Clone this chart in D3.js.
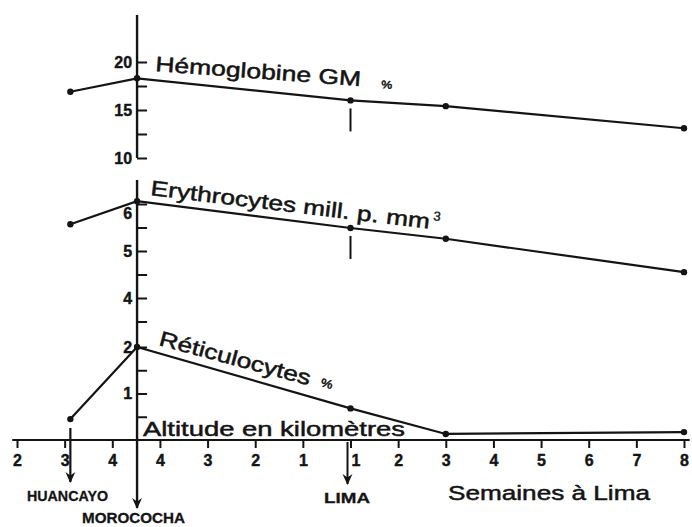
<!DOCTYPE html>
<html>
<head>
<meta charset="utf-8">
<script src="https://cdnjs.cloudflare.com/ajax/libs/d3/7.8.5/d3.min.js"></script>
<style>
  body { margin: 0; background: #fff; }
  svg { display: block; font-family: "Liberation Sans", Arial, sans-serif; }
</style>
</head>
<body>
<div id="chartDiv"></div>
<script>
// stations along the composite x axis (position in axis units)
var stations = ["HUANCAYO", "MOROCOCHA", "LIMA", "Semaine 3", "Semaine 8"];
var stationPos = [1.12, 2.52, 7, 9, 14];

// series values
var hemoglobine = [16.9, 18.3, 16.0, 15.4, 13.1];
var erythrocytes = [5.57, 6.06, 5.49, 5.26, 4.55];
var reticulocytes = [0.45, 2.0, 0.68, 0.13, 0.17];

// x axis: altitude up (2,3,4), altitude down (4..1), then weeks at Lima (1..8)
var xTickPos = [0, 1, 2, 3, 4, 5, 6, 7, 8, 9, 10, 11, 12, 13, 14];
var xTickLabels = ["2", "3", "4", "4", "3", "2", "1", "1", "2", "3", "4", "5", "6", "7", "8"];

var hemoTicks = [10, 12.5, 15, 17.5, 20];
var eryTicks = [3.5, 4, 4.5, 5, 5.5, 6];
var retTicks = [0.5, 1, 1.5, 2];

;(function() {
	var width = 692, height = 527;
	var ink = "#141414";

	var svg = d3.select("#chartDiv").append("svg")
		.attr("width", width)
		.attr("height", height);

	svg.append("defs").append("marker")
		.attr("id", "arrow")
		.attr("viewBox", "0 0 10 10")
		.attr("refX", 9).attr("refY", 5)
		.attr("markerWidth", 13).attr("markerHeight", 11)
		.attr("markerUnits", "userSpaceOnUse")
		.attr("orient", "auto")
		.append("path")
		.attr("d", "M0,0.5 L10,5 L0,9.5 L3,5 z")
		.attr("fill", ink);

	var x = d3.scaleLinear().domain([0, 14]).range([17, 684]);
	var yHemo = d3.scaleLinear().domain([10, 20]).range([158, 62]);
	var yEry = d3.scaleLinear().domain([4, 6]).range([298, 204]);
	var yRet = d3.scaleLinear().domain([0, 2]).range([440, 347]);

	var axisX = x(stationPos[1]);
	var baseY = yRet(0);

	// horizontal axis
	svg.append("line")
		.attr("x1", x(-0.1)).attr("x2", x(14.12))
		.attr("y1", baseY).attr("y2", baseY)
		.attr("stroke", ink).attr("stroke-width", 2.2);

	var xAxis = d3.axisBottom(x)
		.tickValues(xTickPos)
		.tickFormat(function(d, i) { return xTickLabels[i]; })
		.tickSize(8).tickPadding(7);

	var gx = svg.append("g")
		.attr("transform", "translate(0," + baseY + ")")
		.call(xAxis);
	gx.select(".domain").remove();
	gx.selectAll("line").attr("stroke", ink).attr("stroke-width", 2);
	gx.selectAll("text")
		.attr("fill", ink)
		.attr("stroke", ink).attr("stroke-width", 0.4)
		.style("font-size", "16px").style("font-weight", "bold")
		.attr("dx", function(d) { return d === 7 ? 5 : 0; });

	// vertical axis pieces
	svg.append("line")
		.attr("x1", axisX).attr("x2", axisX)
		.attr("y1", 15).attr("y2", yHemo(10))
		.attr("stroke", ink).attr("stroke-width", 2.4);
	svg.append("line")
		.attr("x1", axisX).attr("x2", axisX)
		.attr("y1", 180).attr("y2", 508)
		.attr("stroke", ink).attr("stroke-width", 2.4)
		.attr("marker-end", "url(#arrow)");

	function yAxisOf(scale, ticks, labelled, shift) {
		var ax = d3.axisLeft(scale)
			.tickValues(ticks)
			.tickFormat(function(d) { return labelled.indexOf(d) >= 0 ? d : ""; })
			.tickSize(-10).tickPadding(5);
		var g = svg.append("g")
			.attr("transform", "translate(" + axisX + ",0)")
			.call(ax);
		g.select(".domain").remove();
		g.selectAll("line").attr("stroke", ink).attr("stroke-width", 2);
		g.selectAll("text")
			.attr("fill", ink)
			.attr("stroke", ink).attr("stroke-width", 0.4)
			.style("font-size", "16px").style("font-weight", "bold")
			.attr("transform", function(d) { return "translate(0," + (shift[d] || 0) + ")"; });
	}
	yAxisOf(yHemo, hemoTicks, [10, 15, 20], {});
	yAxisOf(yEry, eryTicks, [4, 5, 6], { 6: 9 });
	yAxisOf(yRet, retTicks, [1, 2], {});

	// series lines and points
	var series = [
		{ values: hemoglobine, y: yHemo, mark: true },
		{ values: erythrocytes, y: yEry, mark: true },
		{ values: reticulocytes, y: yRet, mark: false }
	];

	series.forEach(function(s) {
		var pts = stationPos.map(function(p, i) { return [x(p), s.y(s.values[i])]; });
		svg.append("path")
			.attr("d", d3.line()(pts))
			.attr("fill", "none")
			.attr("stroke", ink)
			.attr("stroke-width", 2.2);
		svg.selectAll(null).data(pts).enter().append("circle")
			.attr("cx", function(d) { return d[0]; })
			.attr("cy", function(d) { return d[1]; })
			.attr("r", 3.2)
			.attr("fill", ink);
		if (s.mark) {
			var lp = pts[2];
			svg.append("line")
				.attr("x1", lp[0]).attr("x2", lp[0])
				.attr("y1", lp[1] + 8).attr("y2", lp[1] + 31)
				.attr("stroke", ink).attr("stroke-width", 2);
		}
	});

	// station arrows
	svg.append("line")
		.attr("x1", x(stationPos[0])).attr("x2", x(stationPos[0]))
		.attr("y1", 428).attr("y2", 482)
		.attr("stroke", ink).attr("stroke-width", 2.2)
		.attr("marker-end", "url(#arrow)");
	svg.append("line")
		.attr("x1", x(stationPos[2]) - 3).attr("x2", x(stationPos[2]) - 3)
		.attr("y1", baseY + 2).attr("y2", 484)
		.attr("stroke", ink).attr("stroke-width", 2)
		.attr("marker-end", "url(#arrow)");

	function label(txt, px, py, size, len, opts) {
		opts = opts || {};
		var t = svg.append("text")
			.attr("transform", "translate(" + px + "," + py + ") rotate(" + (opts.angle || 0) + ")")
			.attr("fill", ink)
			.style("font-size", size + "px")
			.style("font-weight", opts.bold ? "bold" : "normal")
			.attr("stroke", ink)
			.attr("stroke-width", opts.bold ? 0.3 : 0.5)
			.attr("textLength", len)
			.attr("lengthAdjust", "spacingAndGlyphs")
			.text(txt);
		return t;
	}

	// station names
	label(stations[0], 27, 501, 15, 81, { bold: true });
	label(stations[1], 82, 523, 15, 103, { bold: true });
	label(stations[2], 324, 503, 15, 46, { bold: true });

	// series titles
	label("Hémoglobine GM", 155, 71, 21, 206, { angle: 4.2 });
	label("%", 381, 88, 11, 11, { angle: 4.2 });
	label("Erythrocytes mill. p. mm", 150, 195, 21, 281, { angle: 6.9 });
	svg.append("text")
		.attr("transform", "translate(" + 150 + "," + 195 + ") rotate(6.9) translate(284,-9)")
		.attr("fill", ink).style("font-size", "13px")
		.attr("stroke", ink).attr("stroke-width", 0.4)
		.text("3");
	label("Réticulocytes", 158, 345, 21, 156, { angle: 15 });
	label("%", 320, 386, 12, 12, { angle: 15 });

	label("Altitude en kilomètres", 143, 436, 21, 262, {});
	label("Semaines à Lima", 448, 500, 21, 202, {});
})();
</script>
</body>
</html>
